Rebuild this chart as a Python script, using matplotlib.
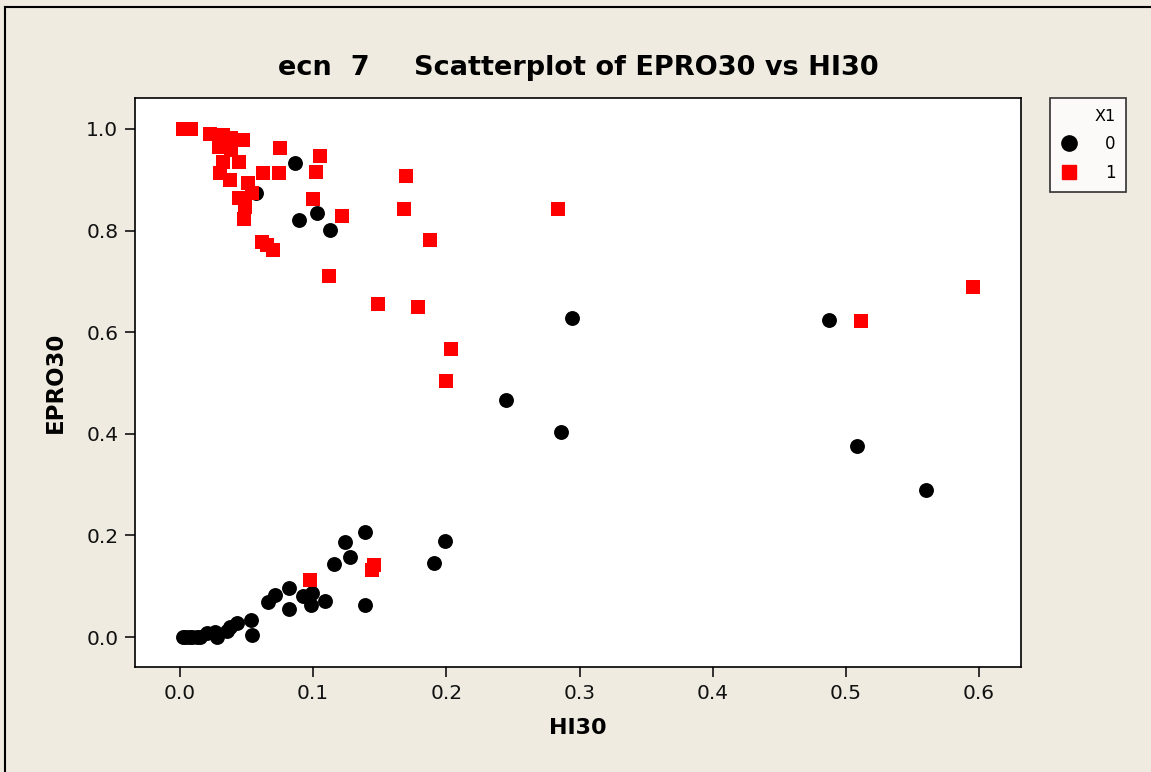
import matplotlib
matplotlib.use("Agg")
import matplotlib.pyplot as plt
from matplotlib.lines import Line2D

# X1 = 0 (black circles)
hi30_0 = [0.086, 0.057, 0.103, 0.089, 0.113, 0.294, 0.245, 0.286, 0.487, 0.508, 0.560,
          0.139, 0.124, 0.199, 0.128, 0.116, 0.191, 0.082, 0.071, 0.066, 0.092, 0.099,
          0.098, 0.109, 0.082, 0.139, 0.053, 0.054, 0.043, 0.0375, 0.035, 0.026, 0.028,
          0.020, 0.015, 0.004, 0.009, 0.013, 0.002, 0.007]
epro30_0 = [0.933, 0.874, 0.835, 0.821, 0.801, 0.628, 0.467, 0.404, 0.624, 0.376, 0.289,
            0.207, 0.187, 0.189, 0.157, 0.144, 0.146, 0.097, 0.083, 0.069, 0.081, 0.087,
            0.063, 0.071, 0.055, 0.063, 0.033, 0.004, 0.027, 0.020, 0.012, 0.010, 0.001,
            0.008, 0.001, 0.000, 0.000, 0.000, 0.000, 0.000]

# X1 = 1 (red squares)
hi30_1 = [0.002, 0.008, 0.0225, 0.032, 0.038, 0.047, 0.029, 0.038, 0.075, 0.105, 0.032,
          0.044, 0.030, 0.0375, 0.062, 0.074, 0.102, 0.051, 0.054, 0.044, 0.049, 0.048,
          0.100, 0.122, 0.0615, 0.065, 0.070, 0.112, 0.170, 0.168, 0.188, 0.284, 0.149,
          0.179, 0.2035, 0.200, 0.511, 0.5955, 0.146, 0.144, 0.0976]
epro30_1 = [1.000, 1.000, 0.990, 0.988, 0.982, 0.978, 0.965, 0.959, 0.963, 0.947, 0.935,
            0.935, 0.913, 0.900, 0.913, 0.913, 0.915, 0.893, 0.874, 0.864, 0.846, 0.823,
            0.862, 0.829, 0.778, 0.772, 0.762, 0.711, 0.907, 0.842, 0.781, 0.843, 0.656,
            0.650, 0.567, 0.504, 0.622, 0.689, 0.142, 0.132, 0.112]

xticks = [0.0, 0.1, 0.2, 0.3, 0.4, 0.5, 0.6]
yticks = [0.0, 0.2, 0.4, 0.6, 0.8, 1.0]

plt.rcParams['font.family'] = ['DejaVu Sans']

W, H = 1151, 772
fig = plt.figure(figsize=(W/100, H/100), dpi=100)
fig.patch.set_facecolor('#EFEBE0')
ax = fig.add_axes([135/W, 1-667/H, (1021-135)/W, (667-98)/H])
ax.set_facecolor('white')

ax.scatter(hi30_0, epro30_0, s=115, marker='o', color='black', linewidths=0, zorder=3)
ax.scatter(hi30_1, epro30_1, s=90, marker='s', color='#FF0000', linewidths=0, zorder=3)

ax.set_xlim(-0.0338, 0.6315)
ax.set_ylim(-0.059, 1.061)
ax.set_xticks(xticks)
ax.set_yticks(yticks)
ax.set_xticklabels([f"{v:.1f}" for v in xticks])
ax.set_yticklabels([f"{v:.1f}" for v in yticks])
ax.tick_params(direction='out', length=7, width=1.2, labelsize=14.5, pad=5, colors='#111111')
for sp in ax.spines.values():
    sp.set_linewidth(1.2)
    sp.set_color('black')

ax.set_xlabel('HI30', fontsize=16, fontweight='bold', va='center')
ax.xaxis.set_label_coords(0.5, -(728-667)/(667-98))
ax.set_ylabel('EPRO30', fontsize=16.5, fontweight='bold', va='center')
ax.yaxis.set_label_coords(-(135-55)/(1021-135), 0.5)

fig.text(278/W, 1-75/H, 'ecn  7', fontsize=19.5, fontweight='bold', ha='left', va='baseline')
fig.text(414/W, 1-75/H, 'Scatterplot of EPRO30 vs HI30', fontsize=19.5, fontweight='bold',
         ha='left', va='baseline')

h0 = Line2D([], [], marker='o', color='black', linestyle='None', markersize=11)
h1 = Line2D([], [], marker='s', color='#FF0000', linestyle='None', markersize=9.5)
leg = fig.legend([h0, h1], ['0', '1'], title='X1', loc='upper left',
                 bbox_to_anchor=(1050/W, 1-98/H), borderaxespad=0, frameon=True, fancybox=False,
                 edgecolor='black', fontsize=12, title_fontsize=11.5, handlelength=1.0,
                 handletextpad=1.65, borderpad=0.65, labelspacing=0.65, alignment='right')
leg.get_frame().set_linewidth(1.2)
leg.get_frame().set_facecolor('white')

# outer border (left and top)
fig.add_artist(Line2D([5/W, 5/W], [0, 1-7/H], transform=fig.transFigure, color='black', lw=1.5))
fig.add_artist(Line2D([5/W, 1], [1-7/H, 1-7/H], transform=fig.transFigure, color='black', lw=1.5))

fig.savefig('out.png', dpi=100, facecolor=fig.get_facecolor())
